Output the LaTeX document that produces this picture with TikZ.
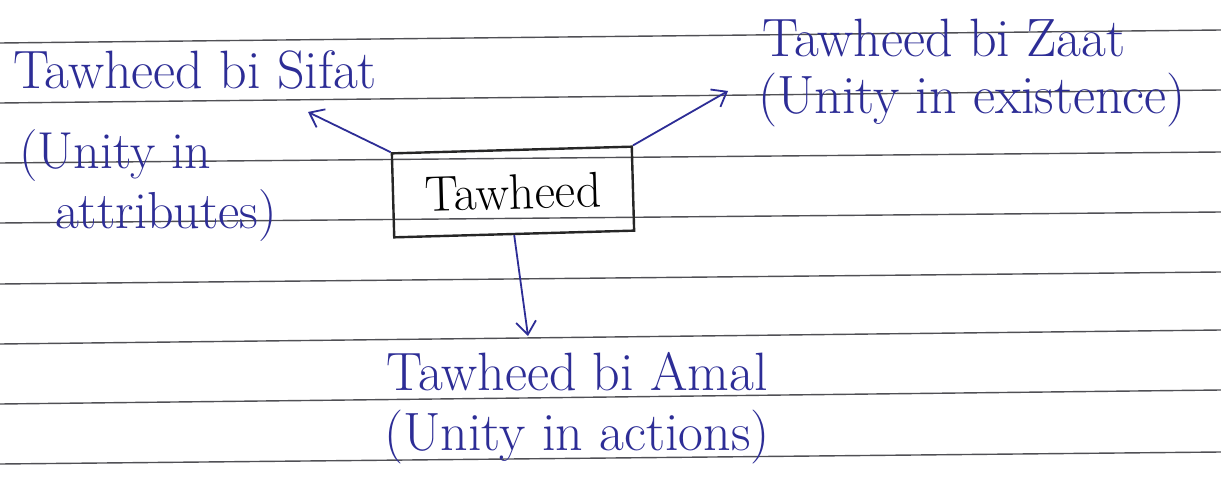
\documentclass[tikz,border=0pt]{standalone}
\usetikzlibrary{arrows.meta}
\definecolor{ink}{RGB}{45,45,150}
\definecolor{rule}{RGB}{80,80,85}
\begin{document}
\begin{tikzpicture}[x=1pt,y=-1pt,
  ruling/.style={draw=rule, line width=1.4pt},
  hand/.style={text=ink, font=\fontsize{54}{58}\selectfont, inner sep=0pt, align=center},
  conn/.style={draw=ink, line width=1.8pt, -{Straight Barb[length=13pt,width=20pt,line width=1.8pt]}},
  mainbox/.style={draw=black!85, line width=2.4pt, minimum width=240pt, minimum height=84pt, inner sep=0pt, font=\fontsize{50}{54}\selectfont, text=black}]
\useasboundingbox (0,0) rectangle (1221,497);
\fill[white] (0,0) rectangle (1221,497);
% ruled lines
\foreach \yl/\yr in {43/30,103/90,163/152,223/212,284/272,344/330,404/390,464/452}
  \draw[ruling] (0,\yl) -- (1221,\yr);
% central box
\node[mainbox, rotate=1.6] (t) at (513,192) {Tawheed};
% labels
\node[hand] (sifat) at (195,70) {Tawheed bi Sifat};
\node[hand, align=left, font=\fontsize{52}{60}\selectfont] (sifatu) at (148,186) {(Unity in\\\hspace*{36pt}attributes)};
\node[hand] (zaat) at (944,38) {Tawheed bi Zaat};
\node[hand] (zaatu) at (972,100) {(Unity in existence)};
\node[hand] (amal) at (577,372) {Tawheed bi Amal};
\node[hand] (amalu) at (577,437) {(Unity in actions)};
% connectors
\coordinate (sifattip) at (308,112);
\coordinate (zaattip) at (728,91);
\coordinate (amaltip) at (528,336);
\draw[conn] (t.north west) -- (sifattip);
\draw[conn] (t.north east) -- (zaattip);
\draw[conn] (t.south) -- (amaltip);
\end{tikzpicture}
\end{document}
